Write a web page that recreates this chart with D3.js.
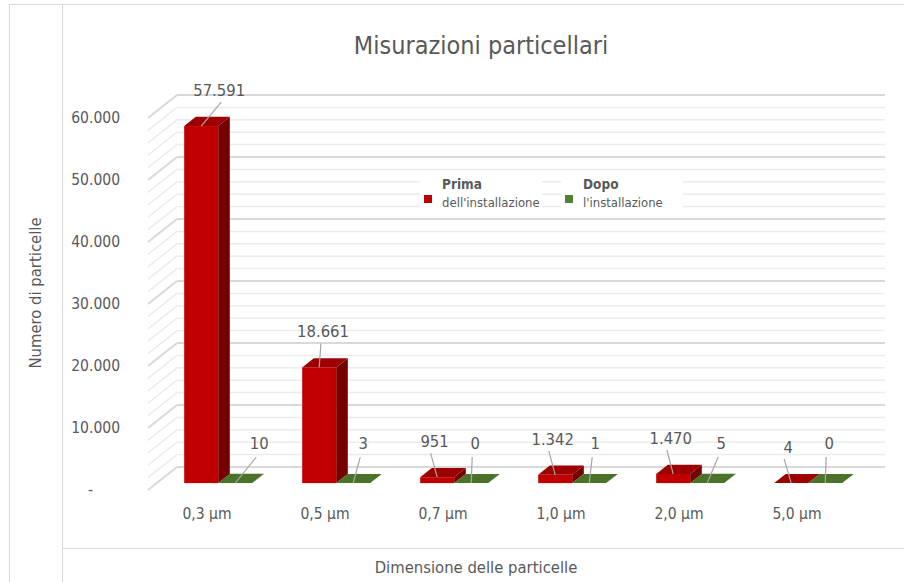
<!DOCTYPE html>
<html>
<head>
<meta charset="utf-8">
<script src="https://cdn.jsdelivr.net/npm/d3@7"></script>
<style>
  body { margin: 0; background: #fff; }
  text { font-family: "Liberation Sans Narrow", "DejaVu Sans Condensed", sans-serif; fill: #595959; }
</style>
</head>
<body>
<svg width="904" height="582"></svg>
<script>
// dati del grafico
var categories = ["0,3 µm", "0,5 µm", "0,7 µm", "1,0 µm", "2,0 µm", "5,0 µm"];
var series = ["Prima", "Dopo"];
var prima = [57591, 18661, 951, 1342, 1470, 4];
var dopo = [10, 3, 0, 1, 5, 0];
var yTicks = [0, 10000, 20000, 30000, 40000, 50000, 60000];

var svg = d3.select("svg");

// profondita' 3D (obliqua)
var depth = [29, -23],
    t1 = 0.3, t2 = 0.7;

var x = d3.scaleBand().domain(categories).range([148, 856]),
    xs = d3.scaleBand().domain(series).range([0, x.bandwidth()])
      .paddingInner(0).paddingOuter(0.735).align(0.55),
    y = d3.scaleLinear().domain([0, 60000]).range([490, 118]);

var colors = {
  Prima: {front: "#c00000", top: "#9c0000", side: "#740000"},
  Dopo: {front: "#548235", top: "#4b7229", side: "#385a1e"}
};

// cornice
svg.append("rect").attr("x", 9.5).attr("y", 4.5).attr("width", 900).attr("height", 590)
  .attr("fill", "none").attr("stroke", "#d9d9d9");
svg.append("line").attr("x1", 62.5).attr("x2", 62.5).attr("y1", 4).attr("y2", 582).attr("stroke", "#d9d9d9");
svg.append("line").attr("x1", 62).attr("x2", 904).attr("y1", 548.5).attr("y2", 548.5).attr("stroke", "#d9d9d9");

// griglia: parete di fondo + parete laterale
var minor = d3.range(0, 60001, 2000);
var grid = svg.append("g");
grid.selectAll(".gl").data(minor).enter().append("line")
  .attr("x1", x.range()[0] + depth[0]).attr("x2", x.range()[1] + depth[0])
  .attr("y1", function(d) { return y(d) + depth[1]; })
  .attr("y2", function(d) { return y(d) + depth[1]; })
  .attr("stroke", function(d) { return d % 10000 == 0 ? "#d9d9d9" : "#ececec"; })
  .attr("stroke-width", function(d) { return d % 10000 == 0 ? 2 : 1.5; });
grid.selectAll(".gs").data(minor).enter().append("line")
  .attr("x1", x.range()[0]).attr("x2", x.range()[0] + depth[0])
  .attr("y1", function(d) { return y(d); })
  .attr("y2", function(d) { return y(d) + depth[1]; })
  .attr("stroke", function(d) { return d % 10000 == 0 ? "#d9d9d9" : "#ececec"; })
  .attr("stroke-width", function(d) { return d % 10000 == 0 ? 2 : 1.5; });

// barre
var bars = [];
categories.forEach(function(c, i) {
  bars.push({cat: c, s: "Prima", v: prima[i]});
  bars.push({cat: c, s: "Dopo", v: dopo[i]});
});

function geo(d) {
  var x0 = x(d.cat) + xs(d.s), w = xs.bandwidth(),
      a = [depth[0] * t1, depth[1] * t1], b = [depth[0] * t2, depth[1] * t2],
      yv = y(d.v), y0 = y(0);
  return {x0: x0, w: w, a: a, b: b, yv: yv, y0: y0};
}
function pts(p) { return p.map(function(q) { return q.join(","); }).join(" "); }

var gb = svg.append("g");
bars.forEach(function(d) {
  var g = geo(d), col = colors[d.s];
  gb.append("polygon").attr("fill", col.side).attr("points", pts([
    [g.x0 + g.w + g.a[0], g.yv + g.a[1]], [g.x0 + g.w + g.b[0], g.yv + g.b[1]],
    [g.x0 + g.w + g.b[0], g.y0 + g.b[1]], [g.x0 + g.w + g.a[0], g.y0 + g.a[1]]]));
  gb.append("polygon").attr("fill", col.top).attr("points", pts([
    [g.x0 + g.a[0], g.yv + g.a[1]], [g.x0 + g.w + g.a[0], g.yv + g.a[1]],
    [g.x0 + g.w + g.b[0], g.yv + g.b[1]], [g.x0 + g.b[0], g.yv + g.b[1]]]));
  gb.append("rect").attr("fill", col.front)
    .attr("x", g.x0 + g.a[0]).attr("y", g.yv + g.a[1])
    .attr("width", g.w).attr("height", g.y0 - g.yv);
});

// etichette dati con linee guida
var fmt = function(v) { return d3.format(",")(v).replace(/,/g, "."); };
var maxV = d3.max(prima);
var gl = svg.append("g");
bars.forEach(function(d) {
  var g = geo(d);
  var cx = g.x0 + g.a[0] + g.w / 2, topY = g.yv + g.a[1];
  var lx, ly;
  if (d.s == "Prima") {
    lx = cx - 3 + 21 * d.v / maxV;
    ly = topY - 30;
    gl.append("line").attr("x1", lx - 4 + 6 * d.v / maxV).attr("y1", ly + 6)
      .attr("x2", cx).attr("y2", topY)
      .attr("stroke", "#a6a6a6").attr("stroke-width", 1.2);
  } else {
    lx = cx + 4 + 2 * d.v;
    ly = topY - 34;
    gl.append("line").attr("x1", lx - 3).attr("y1", ly + 8)
      .attr("x2", cx).attr("y2", topY)
      .attr("stroke", "#a6a6a6").attr("stroke-width", 1.2);
  }
  gl.append("text").attr("x", lx).attr("y", ly)
    .attr("text-anchor", "middle").attr("font-size", 16.5).text(fmt(d.v));
});

// asse y
var yAxis = svg.append("g").attr("transform", "translate(120,0)")
  .call(d3.axisLeft(y).tickValues(yTicks).tickSize(0).tickPadding(0)
    .tickFormat(function(d) { return d == 0 ? "-" : fmt(d); }));
yAxis.select(".domain").remove();
yAxis.selectAll("text").attr("font-size", 15.5).attr("fill", "#595959")
  .attr("font-family", null)
  .attr("dx", function(d) { return d == 0 ? -27 : 0; });

// asse x
var xAxis = svg.append("g").attr("transform", "translate(0,508)")
  .call(d3.axisBottom(x).tickSize(0).tickPadding(0));
xAxis.select(".domain").remove();
xAxis.selectAll("text").attr("font-size", 15.5).attr("fill", "#595959").attr("font-family", null);

// legenda
var legX = [424, 565];
var leg = svg.append("g");
series.forEach(function(s, i) {
  var g = leg.append("g").attr("transform", "translate(" + legX[i] + ",0)");
  g.append("rect").attr("x", -4).attr("y", 172).attr("width", 122).attr("height", 40).attr("fill", "#fff");
  g.append("rect").attr("x", 0).attr("y", 195).attr("width", 8).attr("height", 8).attr("fill", colors[s].front);
  g.append("text").attr("x", 18).attr("y", 189).attr("font-size", 13.5).attr("font-weight", "bold").text(s);
  g.append("text").attr("x", 18).attr("y", 207).attr("font-size", 13)
    .text(i == 0 ? "dell'installazione" : "l'installazione");
});

// titoli
svg.append("text").attr("x", 481).attr("y", 54).attr("text-anchor", "middle")
  .attr("font-size", 25).text("Misurazioni particellari");
svg.append("text").attr("transform", "translate(41,293) rotate(-90)")
  .attr("text-anchor", "middle").attr("font-size", 16.5).text("Numero di particelle");
svg.append("text").attr("x", 476).attr("y", 573).attr("text-anchor", "middle")
  .attr("font-size", 16.5).text("Dimensione delle particelle");
</script>
</body>
</html>
